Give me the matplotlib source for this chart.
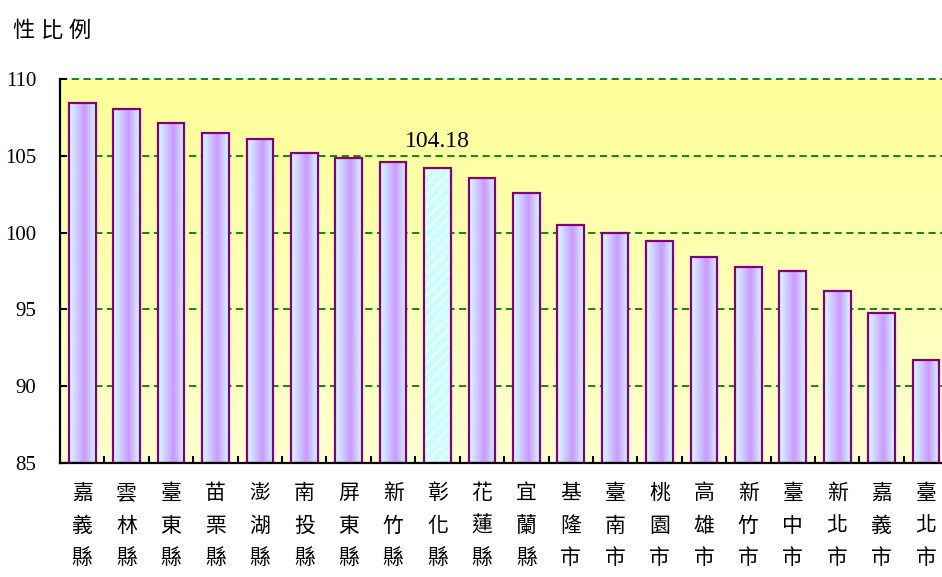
import numpy as np
import matplotlib.pyplot as plt
from matplotlib.colors import LinearSegmentedColormap

plt.rcParams['font.family'] = ['Liberation Serif', 'Noto Sans CJK TC']

counties = ['嘉義縣', '雲林縣', '臺東縣', '苗栗縣', '澎湖縣', '南投縣', '屏東縣', '新竹縣', '彰化縣', '花蓮縣',
            '宜蘭縣', '基隆市', '臺南市', '桃園市', '高雄市', '新竹市', '臺中市', '新北市', '嘉義市', '臺北市']
ratio = [108.44, 108.05, 107.14, 106.48, 106.09, 105.18, 104.86, 104.60, 104.18, 103.55,
         102.58, 100.50, 99.99, 99.45, 98.41, 97.76, 97.50, 96.20, 94.77, 91.70]
highlight = '彰化縣'
y_ticks = [85, 90, 95, 100, 105, 110]
title = '性比例'

fig = plt.figure(figsize=(9.42, 5.77), dpi=100)
ax = fig.add_axes([0.0637, 0.1976, 0.9363, 0.8630 - 0.1976])

x = np.arange(len(counties))

# background gradient (yellow top -> pale bottom)
bg = LinearSegmentedColormap.from_list('bg', ['#FFFFD0', '#FFFF99'])
ax.imshow(np.linspace(0, 1, 256).reshape(-1, 1), cmap=bg, aspect='auto', origin='lower',
          extent=(0, 1, 0, 1), transform=ax.transAxes, zorder=0)

# grid
for v in y_ticks[1:]:
    ax.axhline(v, color='#008000', lw=1.3, ls=(0, (4, 2.5)), zorder=1, clip_on=False)

barcmap = LinearSegmentedColormap.from_list('bar', [(0, '#D4FFFF'), (0.58, '#CC99FF'), (1, '#D4FFFF')])
grad = np.linspace(0, 1, 256).reshape(1, -1)
bars = ax.bar(x, [r - 85 for r in ratio], bottom=85, width=0.6, facecolor='none',
              edgecolor='#800080', linewidth=1.6, zorder=4)
for i, (b, name) in enumerate(zip(bars, counties)):
    if name == highlight:
        ax.bar(x[i], ratio[i] - 85, bottom=85, width=0.6, facecolor='#CCFFFF',
               edgecolor='white', hatch='///', linewidth=0, zorder=3)
        ax.text(x[i], ratio[i] + 1.1, f'{ratio[i]:.2f}', ha='center', va='bottom', fontsize=17)
    else:
        im = ax.imshow(grad, cmap=barcmap, aspect='auto',
                       extent=(b.get_x(), b.get_x() + b.get_width(), 85, ratio[i]), zorder=3)
        im.set_clip_path(b)
ax.set_xlim(-0.5, 19.36)
ax.set_ylim(85, 110)

# axes styling
for s in ['top', 'right']:
    ax.spines[s].set_visible(False)
ax.spines['left'].set_linewidth(1.6)
ax.spines['bottom'].set_linewidth(1.6)
ax.spines['left'].set_zorder(5)
ax.spines['bottom'].set_zorder(5)

ax.set_yticks(y_ticks)
ax.set_yticklabels([str(v) for v in y_ticks], fontsize=15)
ax.tick_params(axis='y', direction='in', length=5, width=1.5, pad=17)

ax.set_xticks(x[:-1] + 0.5)
ax.set_xticklabels([])
ax.tick_params(axis='x', direction='in', length=5, width=1.5)
for xi, name in zip(x, counties):
    ax.text(xi, -0.05, '\n'.join(name), transform=ax.get_xaxis_transform(), ha='center', va='top',
            fontsize=15, linespacing=1.62, family=['Noto Sans CJK TC'])

for k, ch in enumerate(title):
    fig.text(0.025 + k * 0.0297, 0.948, ch, fontsize=16, family=['Noto Sans CJK TC'],
             weight='medium', ha='center', va='center')

fig.savefig('out.png', dpi=100)
